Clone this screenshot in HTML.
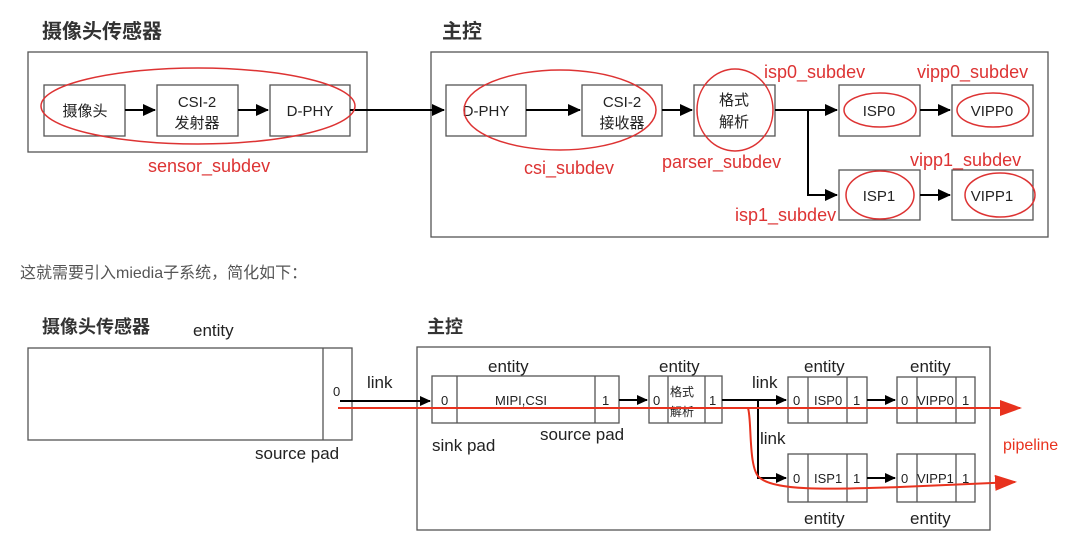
<!DOCTYPE html>
<html><head><meta charset="utf-8"><style>
html,body{margin:0;padding:0;background:#fff;}
body{width:1091px;height:540px;overflow:hidden;}
svg text{font-family:"Liberation Sans","Noto Sans CJK SC",sans-serif;}
</style></head><body>
<svg width="1091" height="540" viewBox="0 0 1091 540" xmlns="http://www.w3.org/2000/svg">
<defs>
<marker id="a" markerWidth="13" markerHeight="12" refX="12" refY="6" orient="auto" markerUnits="userSpaceOnUse"><path d="M0,0 L13,6 L0,12 z" fill="#000"/></marker>
<marker id="b" markerWidth="11" markerHeight="10" refX="10" refY="5" orient="auto" markerUnits="userSpaceOnUse"><path d="M0,0 L11,5 L0,10 z" fill="#000"/></marker>
<marker id="r" markerWidth="22" markerHeight="16" refX="20" refY="8" orient="auto" markerUnits="userSpaceOnUse"><path d="M0,0 L22,8 L0,16 z" fill="#e8321e"/></marker>
</defs>
<g fill="none" stroke="#555" stroke-width="1.3">
<rect x="28" y="52" width="339" height="100"/>
<rect x="44" y="85" width="81" height="51"/>
<rect x="157" y="85" width="81" height="51"/>
<rect x="270" y="85" width="80" height="51"/>
<rect x="431" y="52" width="617" height="185"/>
<rect x="446" y="85" width="80" height="51"/>
<rect x="582" y="85" width="80" height="51"/>
<rect x="694" y="85" width="81" height="51"/>
<rect x="839" y="85" width="81" height="51"/>
<rect x="952" y="85" width="81" height="51"/>
<rect x="839" y="170" width="81" height="50"/>
<rect x="952" y="170" width="81" height="50"/>
</g>
<g fill="#333" font-size="20" font-weight="bold"><text x="42" y="38">摄像头传感器</text><text x="442" y="38">主控</text></g>
<g fill="#222" font-size="15" text-anchor="middle">
<text x="85" y="116">摄像头</text>
<text x="197" y="107">CSI-2</text><text x="197" y="128">发射器</text>
<text x="310" y="116">D-PHY</text>
<text x="486" y="116">D-PHY</text>
<text x="622" y="107">CSI-2</text><text x="622" y="128">接收器</text>
<text x="734" y="105">格式</text><text x="734" y="127">解析</text>
<text x="879" y="116">ISP0</text><text x="992" y="116">VIPP0</text>
<text x="879" y="201">ISP1</text><text x="992" y="201">VIPP1</text>
</g>
<g stroke="#000" stroke-width="2" fill="none">
<line x1="125" y1="110" x2="155" y2="110" marker-end="url(#a)"/>
<line x1="238" y1="110" x2="268" y2="110" marker-end="url(#a)"/>
<line x1="350" y1="110" x2="444" y2="110" marker-end="url(#a)"/>
<line x1="526" y1="110" x2="580" y2="110" marker-end="url(#a)"/>
<line x1="662" y1="110" x2="692" y2="110" marker-end="url(#a)"/>
<line x1="775" y1="110" x2="837" y2="110" marker-end="url(#a)"/>
<polyline points="808,110 808,195 837,195" marker-end="url(#a)"/>
<line x1="920" y1="110" x2="950" y2="110" marker-end="url(#a)"/>
<line x1="920" y1="195" x2="950" y2="195" marker-end="url(#a)"/>
</g>
<g stroke="#d33" stroke-width="1.5" fill="none">
<ellipse cx="198" cy="106" rx="157" ry="38"/>
<ellipse cx="560" cy="110" rx="96" ry="40"/>
<ellipse cx="735" cy="110" rx="38" ry="41"/>
<ellipse cx="880" cy="110" rx="36" ry="17"/>
<ellipse cx="993" cy="110" rx="36" ry="17"/>
<ellipse cx="880" cy="195" rx="34" ry="24"/>
<ellipse cx="1000" cy="195" rx="35" ry="22"/>
</g>
<g fill="#d33" font-size="18">
<text x="148" y="172">sensor_subdev</text>
<text x="524" y="174">csi_subdev</text>
<text x="662" y="168">parser_subdev</text>
<text x="764" y="78">isp0_subdev</text>
<text x="917" y="78">vipp0_subdev</text>
<text x="910" y="166">vipp1_subdev</text>
<text x="735" y="221">isp1_subdev</text>
</g>
<text x="20" y="278" fill="#555" font-size="16">这就需要引入miedia子系统，简化如下：</text>
<g fill="#333" font-size="18" font-weight="bold"><text x="42" y="333">摄像头传感器</text><text x="427" y="333">主控</text></g>
<g fill="none" stroke="#555" stroke-width="1.3">
<rect x="28" y="348" width="324" height="92"/><line x1="323" y1="348" x2="323" y2="440"/>
<rect x="417" y="347" width="573" height="183"/>
<rect x="432" y="376" width="187" height="47"/><line x1="457" y1="376" x2="457" y2="423"/><line x1="595" y1="376" x2="595" y2="423"/>
<rect x="649" y="376" width="73" height="47"/><line x1="668" y1="376" x2="668" y2="423"/><line x1="705" y1="376" x2="705" y2="423"/>
<rect x="788" y="377" width="79" height="46"/><line x1="808" y1="377" x2="808" y2="423"/><line x1="847" y1="377" x2="847" y2="423"/>
<rect x="897" y="377" width="78" height="46"/><line x1="917" y1="377" x2="917" y2="423"/><line x1="956" y1="377" x2="956" y2="423"/>
<rect x="788" y="454" width="79" height="48"/><line x1="808" y1="454" x2="808" y2="502"/><line x1="847" y1="454" x2="847" y2="502"/>
<rect x="897" y="454" width="78" height="48"/><line x1="917" y1="454" x2="917" y2="502"/><line x1="956" y1="454" x2="956" y2="502"/>
</g>
<g fill="#222" font-size="17">
<text x="193" y="336">entity</text><text x="488" y="372">entity</text><text x="659" y="372">entity</text>
<text x="804" y="372">entity</text><text x="910" y="372">entity</text>
<text x="804" y="524">entity</text><text x="910" y="524">entity</text>
<text x="367" y="388">link</text><text x="752" y="388">link</text><text x="760" y="444">link</text>
<text x="255" y="459">source pad</text><text x="432" y="451">sink pad</text><text x="540" y="440">source pad</text>
</g>
<g fill="#222" font-size="13">
<text x="333" y="396">0</text>
<text x="441" y="405">0</text><text x="495" y="405">MIPI,CSI</text><text x="602" y="405">1</text>
<text x="653" y="405">0</text><text x="709" y="405">1</text>
<text x="670" y="396" font-size="12">格式</text><text x="670" y="416" font-size="12">解析</text>
<text x="793" y="405">0</text><text x="814" y="405">ISP0</text><text x="853" y="405">1</text>
<text x="901" y="405">0</text><text x="917" y="405">VIPP0</text><text x="962" y="405">1</text>
<text x="793" y="483">0</text><text x="814" y="483">ISP1</text><text x="853" y="483">1</text>
<text x="901" y="483">0</text><text x="917" y="483">VIPP1</text><text x="962" y="483">1</text>
</g>
<g stroke="#000" stroke-width="2" fill="none">
<line x1="340" y1="401" x2="430" y2="401" marker-end="url(#b)"/>
<line x1="619" y1="400" x2="647" y2="400" marker-end="url(#b)"/>
<line x1="722" y1="400" x2="786" y2="400" marker-end="url(#b)"/>
<polyline points="758,400 758,478 786,478" marker-end="url(#b)"/>
<line x1="867" y1="400" x2="895" y2="400" marker-end="url(#b)"/>
<line x1="867" y1="478" x2="895" y2="478" marker-end="url(#b)"/>
</g>
<g stroke="#e8321e" stroke-width="2" fill="none">
<line x1="338" y1="408" x2="1020" y2="408" marker-end="url(#r)"/>
<path d="M748,408 C752,420 748,470 760,478 C775,490 820,490 900,487 L1015,482" marker-end="url(#r)"/>
</g>
<text x="1003" y="450" fill="#e8321e" font-size="16">pipeline</text>
</svg>
</body></html>
